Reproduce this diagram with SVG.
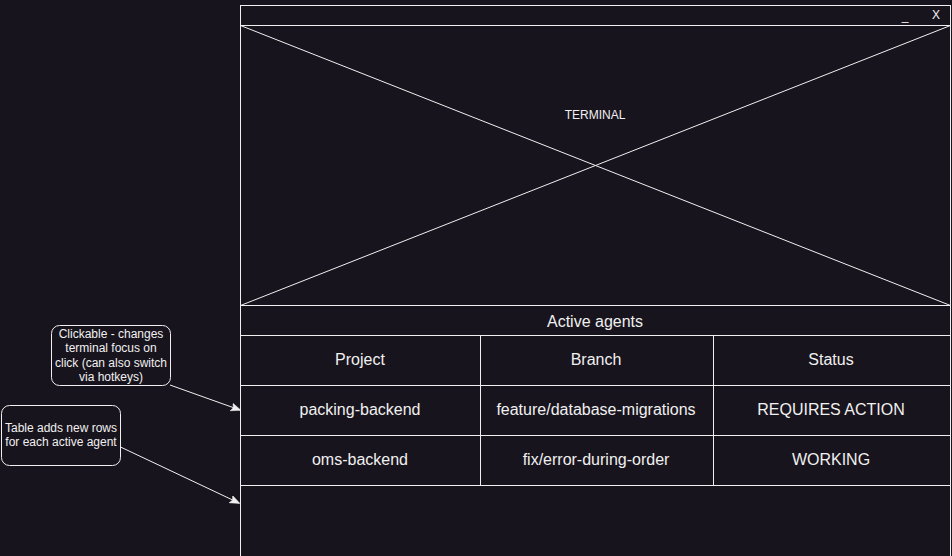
<svg xmlns="http://www.w3.org/2000/svg" width="952" height="556" viewBox="0 0 952 556">
<style>
.ln{fill:none;stroke:#f0f0f0;stroke-width:1}
.t{font-family:"Liberation Sans",Arial,Helvetica,sans-serif;fill:#f0f0f0;text-anchor:middle}
.big{font-size:16px}
.sm{font-size:12px}
.cn{fill:none;stroke:#f0f0f0;stroke-width:1}
</style>
<defs>
<marker id="ah" viewBox="0 0 10 10" refX="9" refY="5" markerWidth="10" markerHeight="10" markerUnits="userSpaceOnUse" orient="auto">
<path d="M0,1 L10,5 L0,9 L2,5 Z" fill="#f0f0f0" stroke="#f0f0f0" stroke-width="0.5"/>
</marker>
</defs>
<rect x="0" y="0" width="952" height="556" fill="#18141d"/>
<g id="window">
<rect class="ln" x="240.5" y="5.5" width="710" height="560"/>
<line class="ln" x1="240.5" y1="25.5" x2="950.5" y2="25.5"/>
<text class="t sm" x="905" y="20">_</text>
<text class="t sm" x="936" y="19">X</text>
</g>
<g id="terminal">
<line class="ln" x1="240.5" y1="25.5" x2="950.5" y2="305.5"/>
<line class="ln" x1="950.5" y1="25.5" x2="240.5" y2="305.5"/>
<text class="t sm" x="595" y="119">TERMINAL</text>
</g>
<g id="table">
<line class="ln" x1="240.5" y1="305.5" x2="950.5" y2="305.5"/>
<line class="ln" x1="240.5" y1="335.5" x2="950.5" y2="335.5"/>
<line class="ln" x1="240.5" y1="385.5" x2="950.5" y2="385.5"/>
<line class="ln" x1="240.5" y1="435.5" x2="950.5" y2="435.5"/>
<line class="ln" x1="240.5" y1="485.5" x2="950.5" y2="485.5"/>
<line class="ln" x1="480.5" y1="335.5" x2="480.5" y2="485.5"/>
<line class="ln" x1="713.5" y1="335.5" x2="713.5" y2="485.5"/>
<text class="t big" x="595" y="327">Active agents</text>
<text class="t big" x="360" y="365">Project</text>
<text class="t big" x="596" y="365">Branch</text>
<text class="t big" x="831" y="365">Status</text>
<text class="t big" x="360" y="415">packing-backend</text>
<text class="t big" x="596" y="415">feature/database-migrations</text>
<text class="t big" x="831" y="415">REQUIRES ACTION</text>
<text class="t big" x="360" y="465">oms-backend</text>
<text class="t big" x="596" y="465">fix/error-during-order</text>
<text class="t big" x="831" y="465">WORKING</text>
</g>
<g id="note1">
<rect class="ln" x="51.5" y="325.5" width="119" height="60" rx="8"/>
<text class="t sm" x="111" y="338">Clickable - changes</text>
<text class="t sm" x="111" y="352">terminal focus on</text>
<text class="t sm" x="111" y="367">click (can also switch</text>
<text class="t sm" x="111" y="381">via hotkeys)</text>
</g>
<g id="note2">
<rect class="ln" x="1.5" y="405.5" width="119" height="60" rx="8"/>
<text class="t sm" x="61" y="432">Table adds new rows</text>
<text class="t sm" x="61" y="446">for each active agent</text>
</g>
<g id="connectors">
<line class="cn" x1="170" y1="385" x2="240" y2="410" marker-end="url(#ah)"/>
<line class="cn" x1="120.5" y1="447" x2="239" y2="503" marker-end="url(#ah)"/>
</g>
</svg>
